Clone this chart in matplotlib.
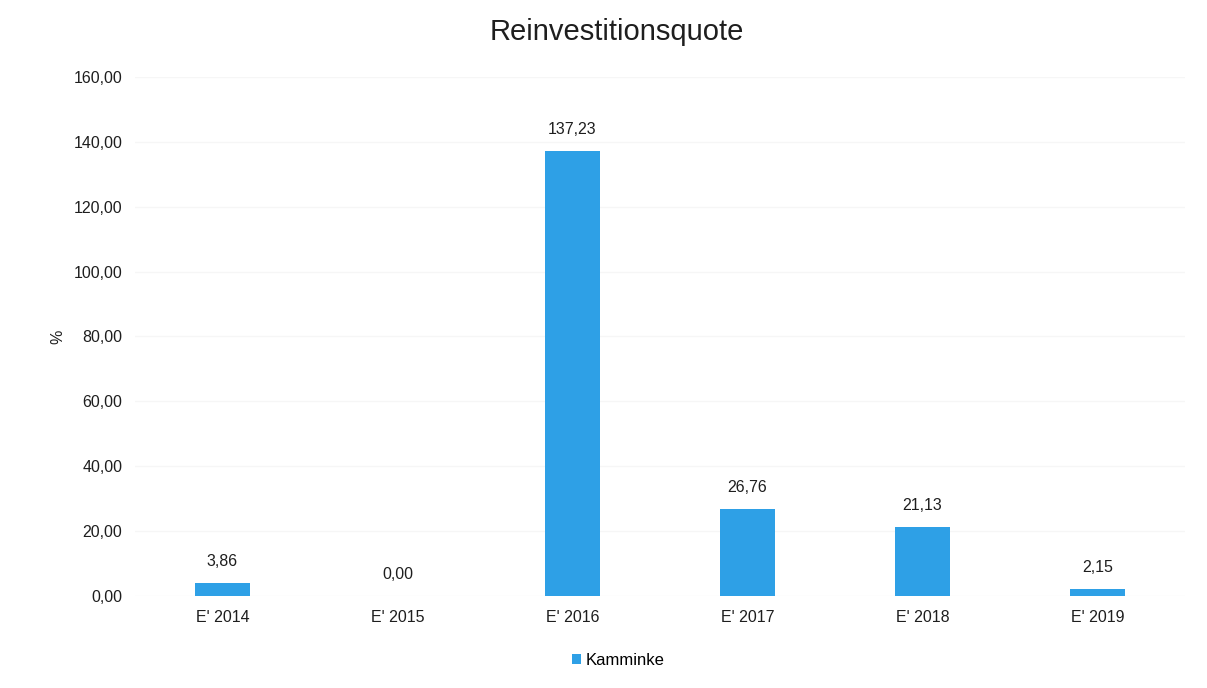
import matplotlib
matplotlib.use("Agg")
import matplotlib.pyplot as plt

categories = ["E' 2014", "E' 2015", "E' 2016", "E' 2017", "E' 2018", "E' 2019"]
values = [3.86, 0.00, 137.23, 26.76, 21.13, 2.15]
series_name = "Kamminke"
yticks = [0, 20, 40, 60, 80, 100, 120, 140, 160]

bar_color = "#2EA0E6"
text_color = "#1e1e1e"

plt.rcParams['font.family'] = ['Liberation Sans', 'DejaVu Sans']

fig = plt.figure(figsize=(12.07, 6.88), dpi=100)
ax = fig.add_axes([0.1118, 0.134, 0.870, 0.754])

x = range(len(categories))
bars = ax.bar(x, values, width=0.31, color=bar_color, label=series_name, zorder=3)

for xi, v in zip(x, values):
    ax.annotate(f"{v:.2f}".replace(".", ","), (xi, v), xytext=(0, 10),
                textcoords="offset points", ha="center", va="bottom",
                fontsize=11.5, color=text_color)

ax.set_xlim(-0.5, 5.5)
ax.set_ylim(0, 160)
ax.set_yticks(yticks)
ax.set_yticklabels([f"{t:.2f}".replace(".", ",") for t in yticks], fontsize=11.5, color=text_color)
ax.set_xticks(list(x))
ax.set_xticklabels(categories, fontsize=11.5, color=text_color)
ax.tick_params(axis="x", length=0, pad=10)
ax.tick_params(axis="y", length=0, pad=9)

ax.grid(axis="y", color="#f6f6f6", linewidth=1, zorder=0)
for s in ax.spines.values():
    s.set_visible(False)

ax.set_ylabel("%", fontsize=11.5, color=text_color, labelpad=6)
fig.suptitle("Reinvestitionsquote", x=0.511, y=0.953, va="center",
             fontsize=21, color=text_color)

fig.legend(handles=[bars], labels=[series_name], loc="center", bbox_to_anchor=(0.512, 0.04),
           frameon=False, fontsize=12, handlelength=0.55, handleheight=0.55, handletextpad=0.25)

fig.savefig("out.png", dpi=100, facecolor="white")
